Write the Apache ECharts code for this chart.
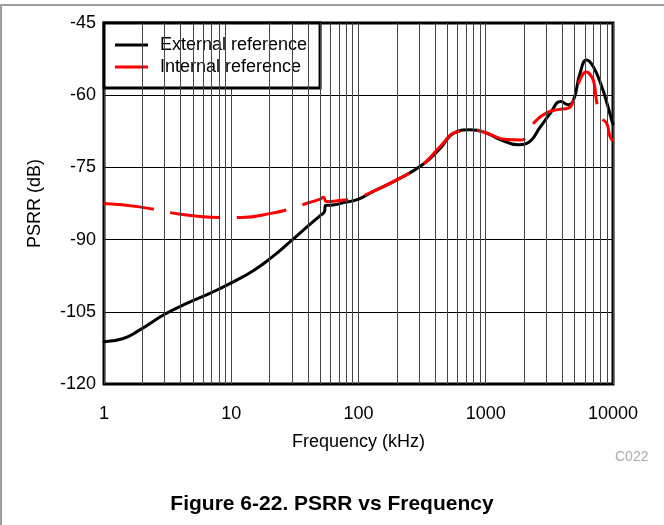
<!DOCTYPE html>
<html>
<head>
<meta charset="utf-8">
<script src="https://cdn.jsdelivr.net/npm/echarts@6/dist/echarts.min.js"></script>
<style>
html,body{margin:0;padding:0;background:#fff;}
#chart{width:664px;height:525px;}
</style>
</head>
<body>
<div id="chart"></div>
<script>
// Frequency (kHz) and PSRR (dB)
var extFreq = [1, 1.4, 1.9, 3, 4.7, 7, 10, 15, 21, 30, 40, 50, 54, 55, 63, 80, 100, 130, 200, 320, 440, 560, 750, 1000, 1300, 1800, 2100, 2700, 3200, 3900, 4450, 4900, 5500, 6200, 7000, 8150, 9000, 9770, 10000];
var extVal  = [-111.2, -110.6, -108.8, -105.5, -103.0, -101.0, -99.0, -96.4, -93.6, -90.1, -87.2, -85.0, -84.2, -82.9, -82.8, -82.2, -81.6, -80.0, -77.6, -74.4, -71.0, -67.9, -67.2, -67.8, -69.2, -70.3, -70.0, -66.5, -63.8, -61.3, -62.0, -61.0, -55.5, -52.7, -54.1, -58.2, -61.8, -65.2, -66.0];

var intFreq = [1, 1.9, 3.5, 5.7, 8.7, 12, 21, 30, 41, 50, 53, 56, 70, 94, 130, 200, 320, 440, 595, 800, 1016, 1460, 1900, 2380, 3100, 3700, 4450, 4900, 5500, 6200, 6800, 7100, 7430, 7900, 8900, 9470, 10000];
var intVal  = [-82.5, -83.2, -84.5, -85.2, -85.4, -85.4, -84.5, -83.5, -82.3, -81.6, -81.2, -82.1, -81.9, -81.4, -80.0, -77.6, -74.4, -70.6, -67.6, -67.2, -67.9, -69.2, -69.3, -65.8, -63.5, -63.0, -62.7, -61.0, -56.8, -55.2, -56.2, -57.5, -61.3, -64.5, -65.8, -68.6, -69.5];

var seriesNames = ['External reference', 'Internal reference'];
var yTicks = [-120, -105, -90, -75, -60, -45];
var xTickLabels = ['1', '10', '100', '1000', '10000'];
var minorGridFreqs = [2,3,4,5,6,7,8,9, 20,30,40,50,60,70,80,90, 200,300,400,500,600,700,800,900, 2000,3000,4000,5000,6000,7000,8000,9000];

function pairs(fs, vs){ var out=[]; for(var i=0;i<fs.length;i++){ out.push([fs[i], vs[i]]); } return out; }

var FONT = '"Liberation Sans", Arial, sans-serif';
var chart = echarts.init(document.getElementById('chart'), null, {renderer:'canvas'});

var option = {
  animation: false,
  backgroundColor: '#fff',
  grid: { left: 104, right: 51, top: 23, bottom: 141, show: true, borderColor: '#000', borderWidth: 3, backgroundColor: 'transparent' },
  legend: {
    data: seriesNames.map(function(n){ return {name:n, icon:'rect'}; }),
    orient: 'vertical',
    left: 104, top: 23,
    itemWidth: 33, itemHeight: 3,
    itemGap: 2,
    padding: [12, 13, 11, 11],
    backgroundColor: '#fff',
    borderColor: '#000', borderWidth: 3, borderRadius: 0,
    textStyle: { fontFamily: FONT, fontSize: 18, color: '#000', lineHeight: 20, padding: [0,0,0,7] },
    selectedMode: false
  },
  xAxis: {
    type: 'log', logBase: 10, min: 1, max: 10000,
    name: 'Frequency (kHz)', nameLocation: 'middle', nameGap: 49,
    nameTextStyle: { fontFamily: FONT, fontSize: 18, color: '#000' },
    axisLine: { show: false },
    axisTick: { show: false },
    axisLabel: { fontFamily: FONT, fontSize: 18, color: '#000', margin: 21,
      formatter: function(v){ var s = String(Math.round(v)); return xTickLabels.indexOf(s) >= 0 ? s : ''; } },
    splitLine: { show: true, lineStyle: { color: '#444', width: 1 } }
  },
  yAxis: {
    type: 'value', min: yTicks[0], max: yTicks[yTicks.length-1], interval: 15,
    name: 'PSRR (dB)', nameLocation: 'middle', nameGap: 60,
    nameTextStyle: { fontFamily: FONT, fontSize: 18, color: '#000' },
    axisLine: { show: false },
    axisTick: { show: false },
    axisLabel: { fontFamily: FONT, fontSize: 18, color: '#000', margin: 8 },
    splitLine: { show: true, lineStyle: { color: '#000', width: 1 } }
  },
  series: [
    {
      name: 'grid', type: 'line', data: [], z: 1, silent: true,
      markLine: {
        silent: true, symbol: ['none','none'], animation: false,
        label: { show: false },
        lineStyle: { color: '#444', width: 1, type: 'solid' },
        data: minorGridFreqs.map(function(f){ return { xAxis: f }; })
      }
    },
    {
      name: seriesNames[0], type: 'line', z: 3,
      data: pairs(extFreq, extVal),
      showSymbol: false, smooth: 0.5,
      lineStyle: { color: '#000', width: 3, join: 'round', cap: 'round' },
      itemStyle: { color: '#000' }
    },
    {
      name: seriesNames[1], type: 'line', z: 4,
      data: pairs(intFreq, intVal),
      showSymbol: false, smooth: 0.5,
      lineStyle: { color: '#ff0000', width: 3, type: [50, 17], join: 'round' },
      itemStyle: { color: '#ff0000' }
    }
  ],
  graphic: [
    { type: 'rect', silent: true, z: -1, shape: { x: 1, y: 5, width: 720, height: 600 }, style: { fill: 'none', stroke: '#808080', lineWidth: 1.5 } },
    { type: 'text', silent: true, left: 615, top: 450, style: { text: 'C022', font: '14px ' + FONT, fill: '#aaa' } },
    { type: 'text', silent: true, left: 'center', top: 494, style: { text: 'Figure 6-22. PSRR vs Frequency', font: 'bold 21px ' + FONT, fill: '#000' } }
  ]
};
chart.setOption(option);
</script>
</body>
</html>
